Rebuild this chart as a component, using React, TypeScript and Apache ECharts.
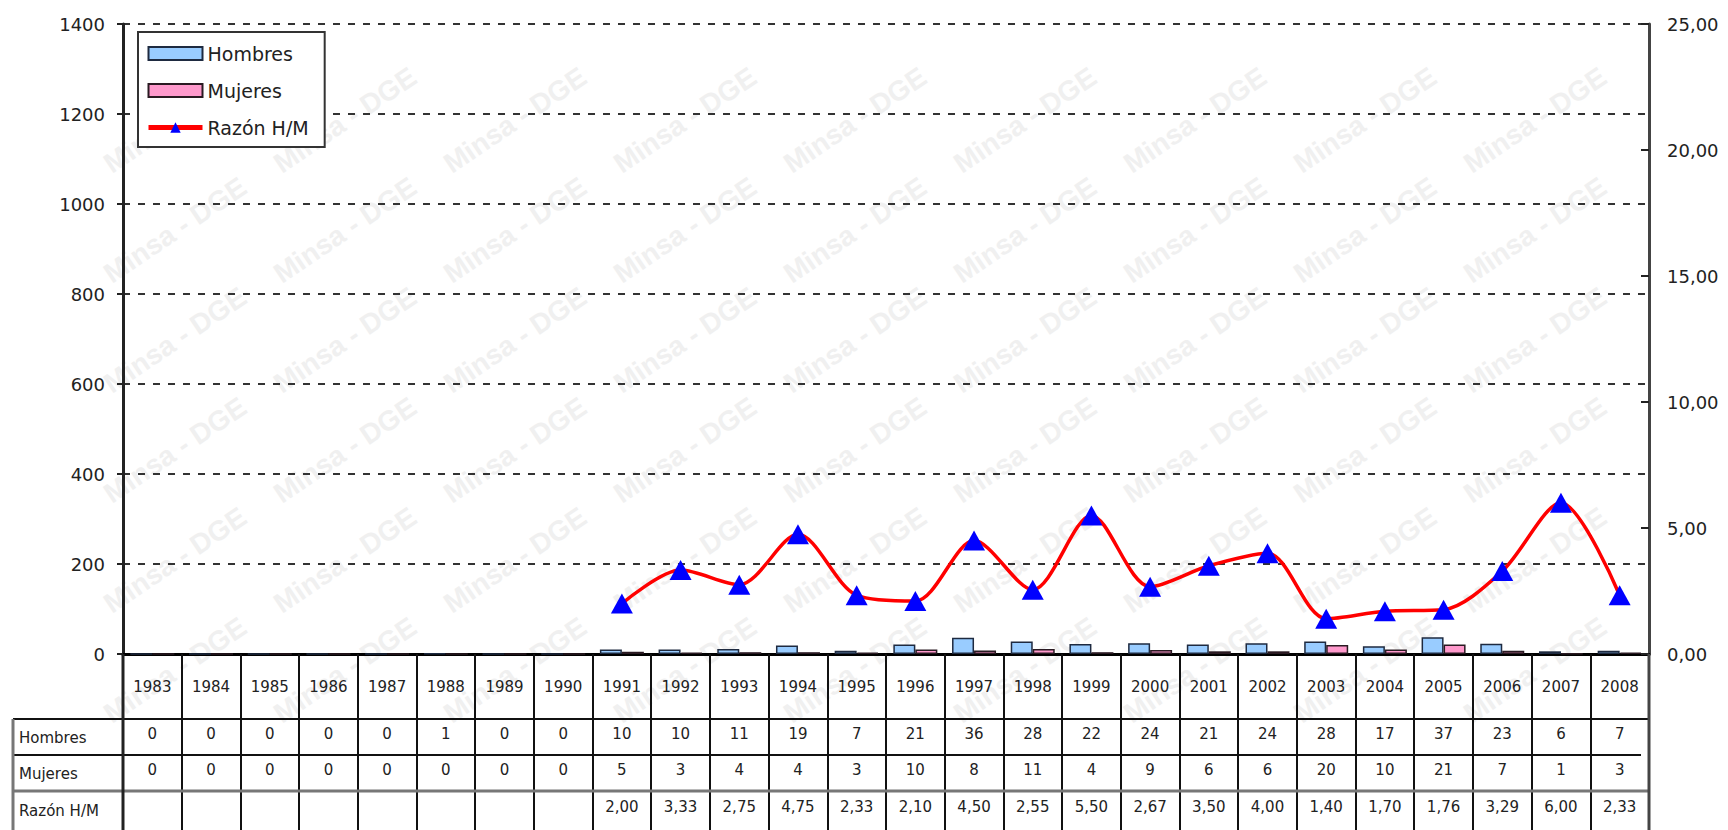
import React, { useEffect, useRef } from "react";
import * as echarts from "echarts";

const years = [
  "1983", "1984", "1985", "1986", "1987", "1988", "1989", "1990", "1991", "1992", "1993", "1994", "1995",
  "1996", "1997", "1998", "1999", "2000", "2001", "2002", "2003", "2004", "2005", "2006", "2007", "2008",
];
const hombres = [0, 0, 0, 0, 0, 1, 0, 0, 10, 10, 11, 19, 7, 21, 36, 28, 22, 24, 21, 24, 28, 17, 37, 23, 6, 7];
const mujeres = [0, 0, 0, 0, 0, 0, 0, 0, 5, 3, 4, 4, 3, 10, 8, 11, 4, 9, 6, 6, 20, 10, 21, 7, 1, 3];
const razon: (number | null)[] = [
  null, null, null, null, null, null, null, null,
  2.0, 3.33, 2.75, 4.75, 2.33, 2.1, 4.5, 2.55, 5.5, 2.67, 3.5, 4.0, 1.4, 1.7, 1.76, 3.29, 6.0, 2.33,
];
const rowLabels = ["Hombres", "Mujeres", "Razón H/M"];

const GRID = { left: 123, top: 24, right: 79, bottom: 176 };
const W = 1728;
const H = 830;
const FONT = "'DejaVu Sans', 'Liberation Sans', Arial, sans-serif";

const fmt = (v: number) => v.toFixed(2).replace(".", ",");

export default function App() {
  const ref = useRef<HTMLDivElement>(null);
  useEffect(() => {
    document.body.style.margin = "0";
    if (!ref.current) return;
    const chart = echarts.init(ref.current, null, { renderer: "svg" });

    // watermark (decoration), only tiles fully inside the canvas
    const wm: any[] = [];
    for (let i = -3; i < 13; i++) {
      for (let j = -3; j < 9; j++) {
        const x = 345 + 170 * i;
        const y = 230 + 110 * j;
        if (x < 92 || x > W - 92 || y < 66 || y > H - 66) continue;
        wm.push({
          type: "text",
          x,
          y,
          rotation: (34 * Math.PI) / 180,
          silent: true,
          z: -100,
          style: {
            text: "Minsa - DGE",
            fill: "#f0f0f0",
            font: "bold 28px 'Liberation Sans', Arial, sans-serif",
            align: "center",
            verticalAlign: "middle",
          },
        });
      }
    }

    const option: any = {
      animation: false,
      backgroundColor: "#ffffff",
      grid: { ...GRID, containLabel: false },
      legend: {
        orient: "vertical",
        left: 138,
        top: 32,
        padding: [12, 16, 10, 8],
        itemGap: 18,
        itemWidth: 54,
        itemHeight: 13,
        borderColor: "#333",
        borderWidth: 2,
        backgroundColor: "#fff",
        lineStyle: { width: 5 },
        textStyle: { fontFamily: FONT, fontSize: 19, color: "#222" },
        data: [
          { name: "Hombres", icon: "rect" },
          { name: "Mujeres", icon: "rect" },
          { name: "Razón H/M" },
        ],
      },
      xAxis: {
        type: "category",
        data: years,
        boundaryGap: true,
        axisLine: { lineStyle: { color: "#000", width: 3 } },
        axisTick: { show: true, length: 176, lineStyle: { color: "#111", width: 2 } },
        axisLabel: { interval: 0, margin: 25, fontFamily: FONT, fontSize: 15, color: "#222" },
        splitLine: { show: false },
      },
      yAxis: [
        {
          type: "value",
          min: 0,
          max: 1400,
          interval: 200,
          axisLine: { show: true, lineStyle: { color: "#222", width: 3 } },
          axisTick: { show: true, length: 6, lineStyle: { color: "#222", width: 2 } },
          axisLabel: { margin: 18, fontFamily: FONT, fontSize: 18, color: "#222", formatter: (v: number) => String(v) },
          splitLine: { show: true, lineStyle: { color: "#333", width: 2, type: [7, 8] } },
        },
        {
          type: "value",
          min: 0,
          max: 25,
          interval: 5,
          position: "right",
          axisLine: { show: true, lineStyle: { color: "#444", width: 3 } },
          axisTick: { show: true, inside: true, length: 8, lineStyle: { color: "#222", width: 2 } },
          axisLabel: { margin: 18, fontFamily: FONT, fontSize: 18, color: "#222", formatter: (v: number) => fmt(v) },
          splitLine: { show: false },
        },
      ],
      series: [
        {
          name: "Hombres",
          type: "bar",
          data: hombres,
          barWidth: 22,
          barGap: "0%",
          itemStyle: { color: "#99ccff", borderColor: "#1e2a40", borderWidth: 1.5 },
        },
        {
          name: "Mujeres",
          type: "bar",
          data: mujeres,
          barWidth: 22,
          barGap: "0%",
          itemStyle: { color: "#ff99cc", borderColor: "#2a1a22", borderWidth: 1.5 },
        },
        {
          name: "Razón H/M",
          type: "line",
          yAxisIndex: 1,
          data: razon,
          smooth: 0.3,
          connectNulls: false,
          symbol: "triangle",
          symbolSize: [22, 20],
          lineStyle: { color: "#ff0000", width: 3.5 },
          itemStyle: { color: "#0000ff" },
          z: 5,
        },
      ],
      graphic: wm,
    };
    chart.setOption(option);

    // data table below the axis
    const leftX = GRID.left;
    const rightX = W - GRID.right;
    const zeroY = H - GRID.bottom;
    const rowLines = [719, 755, 791];
    const rowCenters = [736, 772, 809];
    const g: any[] = [...wm];
    const lineEl = (x1: number, y1: number, x2: number, y2: number, stroke: string, lw: number) => ({
      type: "line",
      silent: true,
      z: 50,
      shape: { x1, y1, x2, y2 },
      style: { stroke, lineWidth: lw },
    });
    g.push(lineEl(13, rowLines[0], rightX, rowLines[0], "#111", 2));
    g.push(lineEl(13, rowLines[1], rightX - 8, rowLines[1], "#111", 2));
    g.push(lineEl(13, rowLines[2], rightX, rowLines[2], "#777", 3));
    g.push(lineEl(13, rowLines[0], 13, H, "#777", 3));
    g.push(lineEl(leftX, zeroY, leftX, H, "#222", 3));
    g.push(lineEl(rightX, zeroY, rightX, H, "#444", 3));

    rowLabels.forEach((lab, r) => {
      g.push({
        type: "text",
        x: 19,
        y: rowCenters[r] + 2,
        z: 50,
        silent: true,
        style: { text: lab, fill: "#222", font: `15px ${FONT}`, align: "left", verticalAlign: "middle" },
      });
    });
    const rows = [hombres.map(String), mujeres.map(String), razon.map((v) => (v == null ? "" : fmt(v)))];
    years.forEach((yr, i) => {
      const px = chart.convertToPixel({ xAxisIndex: 0 }, yr) as number;
      rows.forEach((vals, r) => {
        if (!vals[i]) return;
        g.push({
          type: "text",
          x: px,
          y: rowCenters[r] - 2,
          z: 50,
          silent: true,
          style: { text: vals[i], fill: "#222", font: `15px ${FONT}`, align: "center", verticalAlign: "middle" },
        });
      });
    });
    chart.setOption({ graphic: g });

    return () => chart.dispose();
  }, []);
  return <div ref={ref} style={{ width: W, height: H }} />;
}
